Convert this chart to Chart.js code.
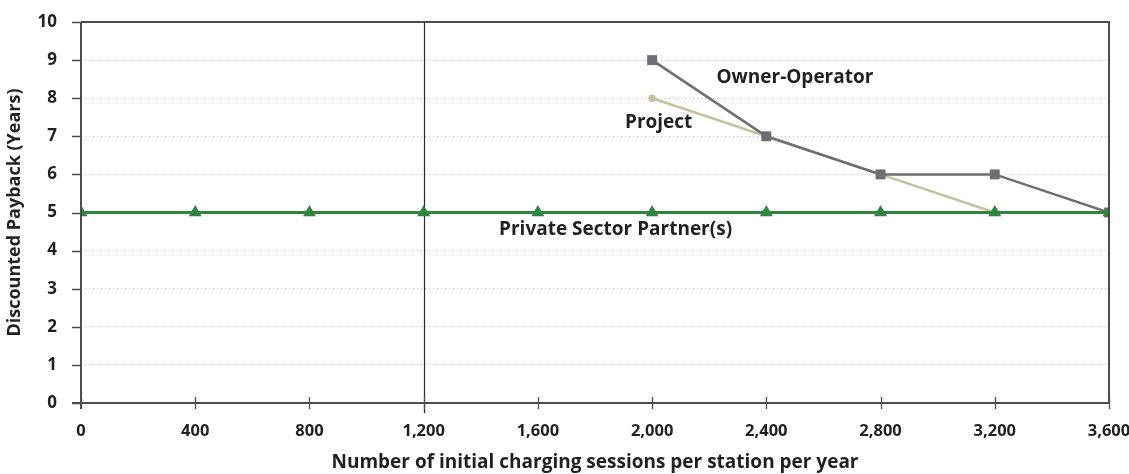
<!DOCTYPE html>
<html>
<head>
<meta charset="utf-8">
<script src="https://cdn.jsdelivr.net/npm/chart.js@4.4.1/dist/chart.umd.min.js"></script>
<style>
  html, body { margin: 0; padding: 0; background: #fff; }
  #wrap { width: 1129px; height: 474px; position: relative; }
</style>
</head>
<body>
<div id="wrap"><canvas id="c" width="1129" height="474"></canvas></div>
<script>
// Charging sessions per station per year (x values)
const sessions = [0, 400, 800, 1200, 1600, 2000, 2400, 2800, 3200, 3600];

// Discounted payback in years for each perspective
const partnerSessions = [0, 400, 800, 1200, 1600, 2000, 2400, 2800, 3200, 3600];
const partnerPayback  = [5, 5, 5, 5, 5, 5, 5, 5, 5, 5];

const ownerSessions = [2000, 2400, 2800, 3200, 3600];
const ownerPayback  = [9, 7, 6, 6, 5];

const projectSessions = [2000, 2400, 2800, 3200];
const projectPayback  = [8, 7, 6, 5];

// Axis ticks
const yTicks = [0, 1, 2, 3, 4, 5, 6, 7, 8, 9, 10];
const xTicks = sessions;

// Series name labels written inside the plot
const seriesLabels = ['Owner-Operator', 'Project', 'Private Sector Partner(s)'];

const FONT = '"Open Sans", Lato, "DejaVu Sans", sans-serif';
const AXIS = '#4d4d4f';
const INK = '#231f20';

const toPoints = (xs, ys) => xs.map((x, i) => ({ x: x, y: ys[i] }));

// Label anchors in data units
const labelAnchors = [
  { x: 2500, y: 8.53 },
  { x: 2023, y: 7.35 },
  { x: 1872, y: 4.54 }
];

const frame = {
  id: 'frame',
  beforeDatasetsDraw(chart) {
    const { ctx, chartArea: a, scales: { x } } = chart;
    ctx.save();
    // reference line at 1,200 sessions
    const vx = Math.round(x.getPixelForValue(1200)) + 0.5;
    ctx.strokeStyle = '#2a2a2a';
    ctx.lineWidth = 1.2;
    ctx.beginPath();
    ctx.moveTo(vx, a.top);
    ctx.lineTo(vx, a.bottom + 10);
    ctx.stroke();
    ctx.restore();
  },
  afterDatasetsDraw(chart) {
    const { ctx, chartArea: a, scales: { x, y } } = chart;
    ctx.save();
    ctx.strokeStyle = AXIS;
    ctx.lineWidth = 2;
    // top and right border
    ctx.beginPath();
    ctx.moveTo(a.left, a.top);
    ctx.lineTo(a.right, a.top);
    ctx.lineTo(a.right, a.bottom);
    ctx.stroke();
    // axes
    ctx.beginPath();
    ctx.moveTo(a.left - 9, a.bottom);
    ctx.lineTo(a.right, a.bottom);
    ctx.moveTo(a.left, a.top);
    ctx.lineTo(a.left, a.bottom + 6);
    ctx.stroke();
    // tick marks
    ctx.lineWidth = 1.3;
    ctx.beginPath();
    yTicks.forEach(v => {
      const py = Math.round(y.getPixelForValue(v)) + 0.5;
      ctx.moveTo(a.left - 9, py);
      ctx.lineTo(a.left, py);
    });
    xTicks.forEach(v => {
      const px = Math.round(x.getPixelForValue(v)) + 0.5;
      ctx.moveTo(px, a.bottom - 6);
      ctx.lineTo(px, a.bottom + 6);
    });
    ctx.stroke();
    // series labels
    ctx.fillStyle = INK;
    ctx.font = 'bold 19px ' + FONT;
    ctx.textAlign = 'center';
    ctx.textBaseline = 'middle';
    seriesLabels.forEach((t, i) => {
      ctx.fillText(t, x.getPixelForValue(labelAnchors[i].x), y.getPixelForValue(labelAnchors[i].y));
    });
    ctx.restore();
  }
};

new Chart(document.getElementById('c'), {
  type: 'line',
  data: {
    datasets: [
      {
        label: 'Private Sector Partner(s)',
        data: toPoints(partnerSessions, partnerPayback),
        borderColor: '#2e8540',
        backgroundColor: '#2e8540',
        borderWidth: 3,
        pointStyle: 'triangle',
        pointRadius: 7.5,
        pointBorderWidth: 0,
        order: 0
      },
      {
        label: 'Owner-Operator',
        data: toPoints(ownerSessions, ownerPayback),
        borderColor: '#6d6e71',
        backgroundColor: '#6d6e71',
        borderWidth: 2.5,
        pointStyle: 'rect',
        pointRadius: 7,
        pointBorderWidth: 0,
        order: 1
      },
      {
        label: 'Project',
        data: toPoints(projectSessions, projectPayback),
        borderColor: '#c9c09f',
        backgroundColor: '#c9c09f',
        borderWidth: 2.5,
        pointStyle: 'circle',
        pointRadius: 3.8,
        pointBorderWidth: 0,
        order: 2
      }
    ]
  },
  options: {
    responsive: false,
    animation: false,
    events: [],
    layout: { padding: { top: 22, right: 20, left: 0, bottom: 0 } },
    plugins: { legend: { display: false }, tooltip: { enabled: false } },
    scales: {
      x: {
        type: 'linear',
        min: 0,
        max: 3600,
        afterBuildTicks: s => { s.ticks = xTicks.map(v => ({ value: v })); },
        afterFit: s => { s.height = 71; s.paddingLeft = 0; s.paddingRight = 0; },
        grid: { display: false, drawTicks: false },
        border: { display: false },
        ticks: {
          padding: 18,
          color: INK,
          font: { family: FONT, size: 16.5, weight: 'bold' },
          maxRotation: 0,
          callback: v => v.toLocaleString('en-US')
        },
        title: {
          display: true,
          text: 'Number of initial charging sessions per station per year',
          color: INK,
          font: { family: FONT, size: 19, weight: 'bold' },
          padding: { top: 6, bottom: 0 }
        }
      },
      y: {
        type: 'linear',
        min: 0,
        max: 10,
        afterBuildTicks: s => { s.ticks = yTicks.map(v => ({ value: v })); },
        afterFit: s => { s.width = 81; s.paddingTop = 0; s.paddingBottom = 0; },
        grid: {
          drawTicks: false,
          color: ctx => (ctx.tick && (ctx.tick.value === 0 || ctx.tick.value === 10)) ? 'rgba(0,0,0,0)' : '#bdbdbd',
          lineWidth: 1
        },
        border: { display: false, dash: [1, 3] },
        ticks: {
          padding: 24,
          color: INK,
          font: { family: FONT, size: 17, weight: 'bold' }
        },
        title: {
          display: true,
          text: 'Discounted Payback (Years)',
          color: INK,
          font: { family: FONT, size: 18, weight: 'bold' },
          padding: { top: 4, bottom: 0 }
        }
      }
    }
  },
  plugins: [frame]
});
</script>
</body>
</html>
